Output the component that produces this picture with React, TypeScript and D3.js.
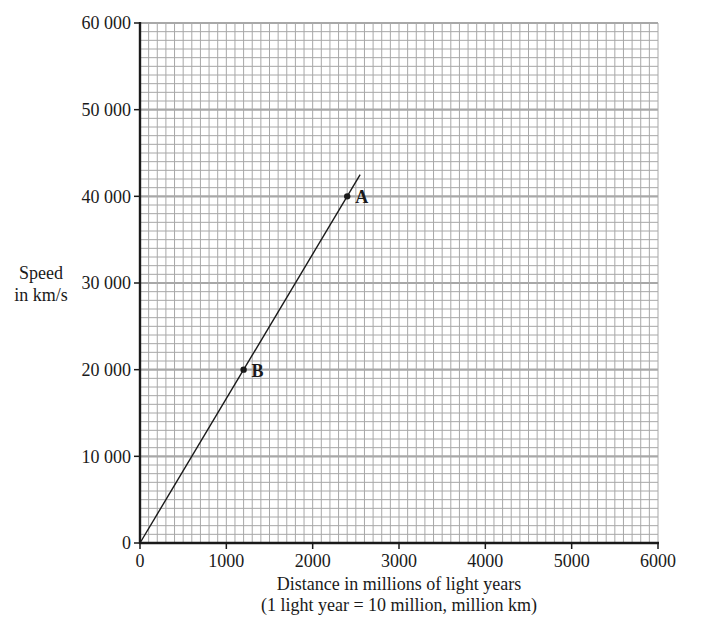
import React from "react";
import * as d3 from "d3";

const xTicks = [0, 1000, 2000, 3000, 4000, 5000, 6000];
const yTicks = [0, 10000, 20000, 30000, 40000, 50000, 60000];
const yTickLabels = ["0", "10 000", "20 000", "30 000", "40 000", "50 000", "60 000"];
const lineData: [number, number][] = [[0, 0], [2550, 42500]];
const pointLabels = ["A", "B"];
const pointX = [2400, 1200];
const pointY = [40000, 20000];

const W = 712, H = 628;
const x0 = 140, x1 = 658, y0 = 543, y1 = 23;

export default function App() {
  const x = d3.scaleLinear().domain([0, 6000]).range([x0, x1]);
  const y = d3.scaleLinear().domain([0, 60000]).range([y0, y1]);
  const xMinor = d3.range(0, 6001, 100);
  const yMinor = d3.range(0, 60001, 1000);
  const line = d3.line<[number, number]>().x(d => x(d[0])).y(d => y(d[1]));
  const font = "'Liberation Serif', 'Times New Roman', serif";
  const fs = 18;
  return (
    <svg width={W} height={H} style={{ position: "absolute", left: 0, top: 0, background: "#fff" }} fontFamily={font}>
      <g>
        {xMinor.map(v => (
          <line key={"xm" + v} x1={x(v)} x2={x(v)} y1={y1} y2={y0} stroke="#a8a8a8" strokeWidth={1} />
        ))}
        {yMinor.map(v => (
          <line key={"ym" + v} x1={x0} x2={x1} y1={y(v)} y2={y(v)} stroke="#a8a8a8"
            strokeWidth={v % 10000 === 0 ? 2.2 : 1} />
        ))}
      </g>
      <line x1={x0} x2={x0} y1={y1 - 1} y2={y0 + 1} stroke="#1a1a1a" strokeWidth={2.4} />
      <line x1={x0 - 1} x2={x1 + 1} y1={y0} y2={y0} stroke="#1a1a1a" strokeWidth={2.4} />
      {yTicks.map((v, i) => (
        <g key={"yt" + v}>
          <line x1={x0 - 6} x2={x0} y1={y(v)} y2={y(v)} stroke="#1a1a1a" strokeWidth={1.5} />
          <text x={x0 - 9} y={y(v)} dy="0.35em" textAnchor="end" fontSize={fs} fill="#1a1a1a">{yTickLabels[i]}</text>
        </g>
      ))}
      {xTicks.map(v => (
        <g key={"xt" + v}>
          <line x1={x(v)} x2={x(v)} y1={y0} y2={y0 + 6} stroke="#1a1a1a" strokeWidth={1.5} />
          <text x={x(v)} y={y0 + 24} textAnchor="middle" fontSize={fs} fill="#1a1a1a">{v}</text>
        </g>
      ))}
      <path d={line(lineData) || ""} fill="none" stroke="#1a1a1a" strokeWidth={1.4} />
      {pointLabels.map((l, i) => (
        <g key={l}>
          <circle cx={x(pointX[i])} cy={y(pointY[i])} r={3.2} fill="#1a1a1a" />
          <text x={x(pointX[i]) + 8} y={y(pointY[i])} dy="0.38em" fontSize={fs} fontWeight="bold" fill="#1a1a1a">{l}</text>
        </g>
      ))}
      <text x={41} y={279} textAnchor="middle" fontSize={fs} fill="#1a1a1a">Speed</text>
      <text x={41} y={301} textAnchor="middle" fontSize={fs} fill="#1a1a1a">in km/s</text>
      <text x={399} y={590} textAnchor="middle" fontSize={fs} fill="#1a1a1a">Distance in millions of light years</text>
      <text x={399} y={611} textAnchor="middle" fontSize={fs} fill="#1a1a1a">(1 light year = 10 million, million km)</text>
    </svg>
  );
}
